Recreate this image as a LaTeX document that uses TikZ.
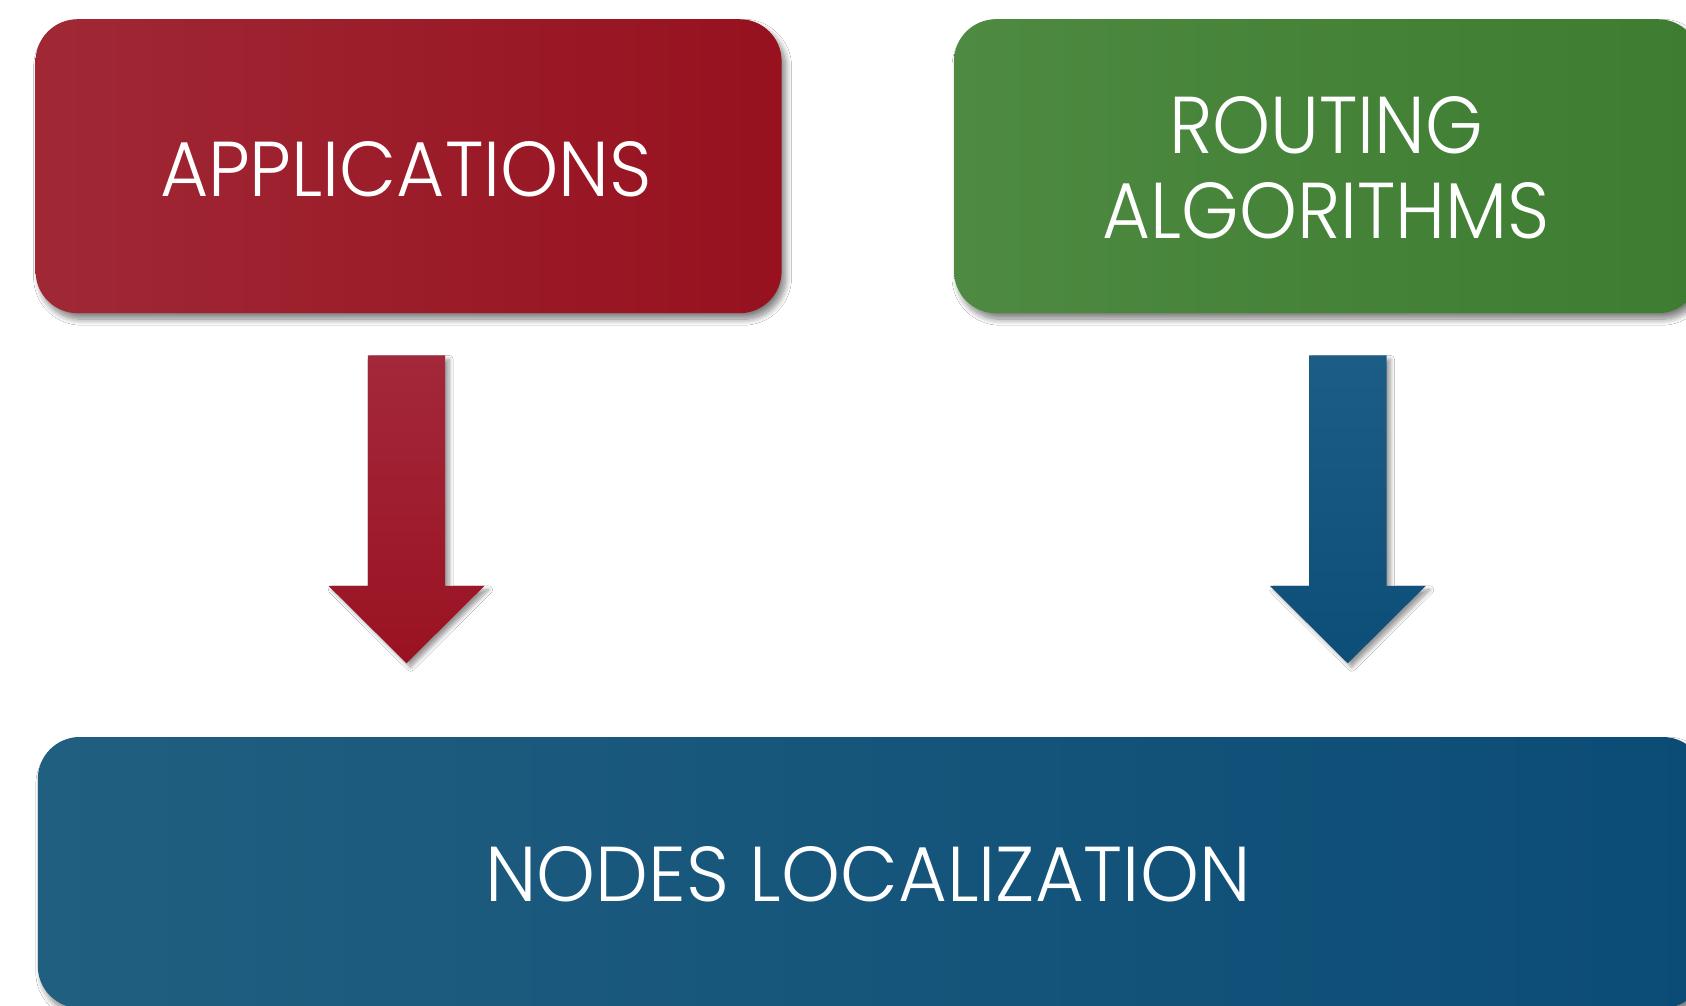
\documentclass[tikz,border=0pt]{standalone}
\usepackage{fontspec}
\usepackage{graphicx}
\newfontfamily\gothic{Poppins Light}
\usetikzlibrary{calc,shadows.blur}

\definecolor{redL}{HTML}{A02835}
\definecolor{redM}{HTML}{A8172A}
\definecolor{redR}{HTML}{97111F}
\definecolor{greenL}{HTML}{4E8A41}
\definecolor{greenM}{HTML}{488F3B}
\definecolor{greenR}{HTML}{3D7C31}
\definecolor{blueL}{HTML}{215F80}
\definecolor{blueM}{HTML}{0F5D8C}
\definecolor{blueR}{HTML}{0B4C76}
\definecolor{arrRedT}{HTML}{A3283A}
\definecolor{arrRedB}{HTML}{9A1222}
\definecolor{arrBlueT}{HTML}{1B5D84}
\definecolor{arrBlueB}{HTML}{0D4E78}

% block arrow pointing down: #1 top coordinate, #2 tip coordinate, #3 style
\newcommand\downblock[3]{%
  \path[#3] let \p1=(#1), \p2=(#2) in
    (\x1-38.7pt,\y1) -- (\x1+38.7pt,\y1) -- (\x1+38.7pt,\y2+77.5pt)
    -- (\x1+78pt,\y2+77.5pt) -- (\x2,\y2) -- (\x1-78pt,\y2+77.5pt)
    -- (\x1-38.7pt,\y2+77.5pt) -- cycle;}

\begin{document}
\begin{tikzpicture}[x=1pt,y=-1pt,
  panel/.style={rectangle, rounded corners=42pt, inner sep=0pt, draw=none,
    blur shadow={shadow xshift=4pt, shadow yshift=-6pt,
      shadow blur radius=6pt, shadow blur steps=12, shadow opacity=50}},
  redpanel/.style={panel, left color=redL, middle color=redM, right color=redR},
  greenpanel/.style={panel, left color=greenL, middle color=greenM, right color=greenR},
  bluepanel/.style={panel, left color=blueL, middle color=blueM, right color=blueR},
  lbl/.style={text=white, inner sep=0pt, align=center,
    font=\gothic\fontsize{60}{85}\selectfont},
  arrowshadow/.style={blur shadow={shadow xshift=4pt, shadow yshift=-4pt,
      shadow blur radius=4pt, shadow blur steps=8, shadow opacity=40}},
  redarrow/.style={arrowshadow, top color=arrRedT, bottom color=arrRedB},
  bluearrow/.style={arrowshadow, top color=arrBlueT, bottom color=arrBlueB}]

\useasboundingbox (0,0) rectangle (1686,1006);
\clip (0,0) rectangle (1686,1006);
\fill[white] (0,0) rectangle (1686,1006);

% boxes
\node[redpanel, minimum width=746pt, minimum height=294pt] (app) at (408.6,166.2) {};
\node[greenpanel, minimum width=746pt, minimum height=294pt] (route) at (1327,166.2) {};
\node[bluepanel, minimum width=1667pt, minimum height=271pt] (loc) at (871.3,872.5) {};

% labels
\node[lbl] (applbl) at (406,169) {\resizebox{492pt}{55pt}{APPLICATIONS}};
\node[lbl] (routelbl) at (1326,168)
  {\resizebox{314pt}{57pt}{ROUTING}\\\resizebox{447pt}{56pt}{ALGORITHMS}};
\node[lbl] (loclbl) at (868,874) {\resizebox{765pt}{55pt}{NODES LOCALIZATION}};

% arrows between the boxes
\coordinate (rtop) at ($(app.south)+(-2.1,42)$);
\coordinate (rtip) at ($(loc.north -| rtop)+(0,-73.5)$);
\coordinate (btop) at ($(route.south)+(20.8,42)$);
\coordinate (btip) at ($(loc.north -| btop)+(0,-73.5)$);
\downblock{rtop}{rtip}{redarrow}
\downblock{btop}{btip}{bluearrow}
\end{tikzpicture}
\end{document}
